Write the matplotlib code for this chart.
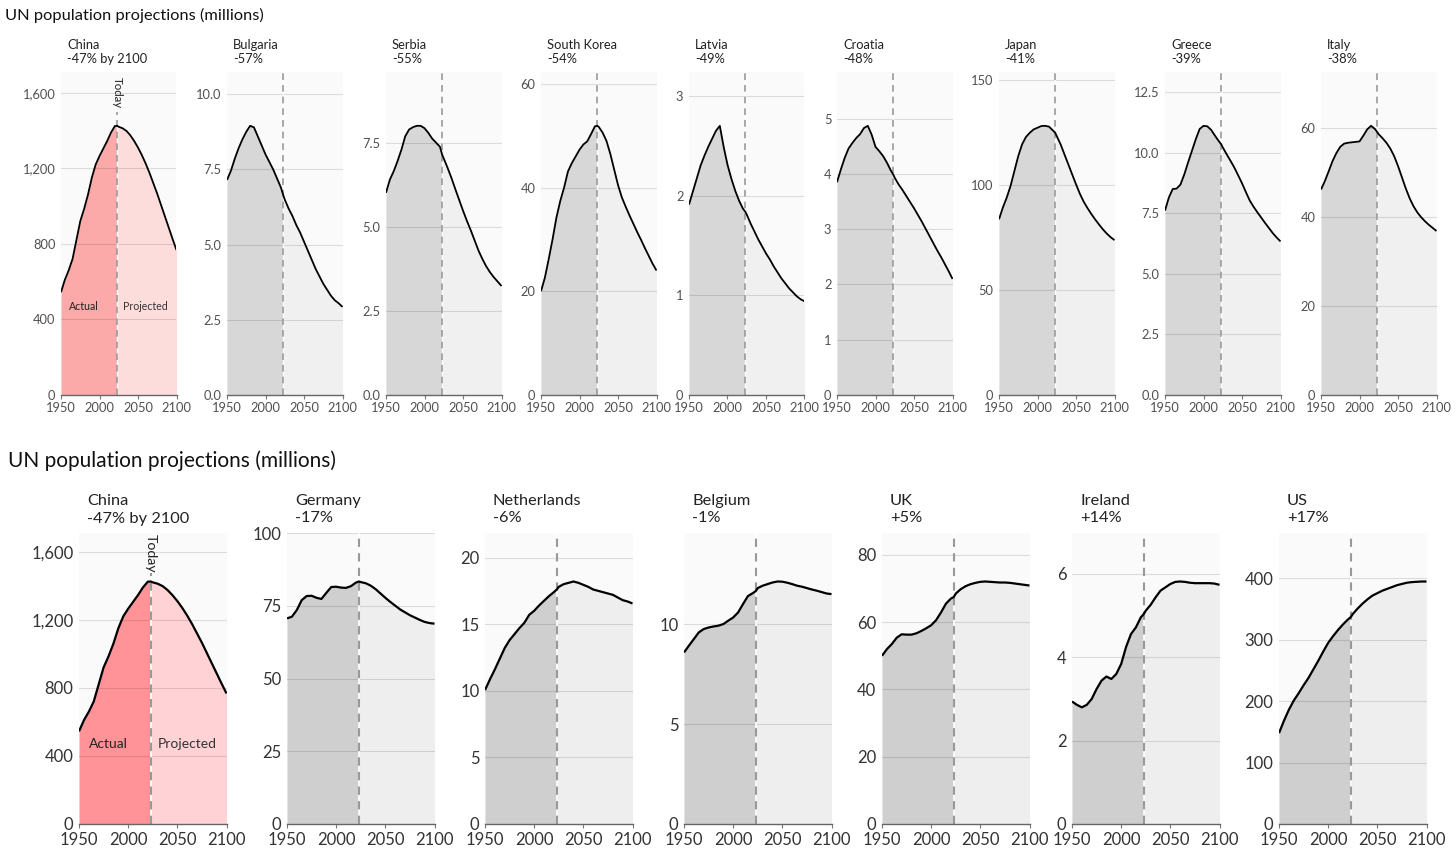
import numpy as np
import matplotlib
matplotlib.use("Agg")
import matplotlib.pyplot as plt
from matplotlib.ticker import FixedLocator, FixedFormatter

plt.rcParams['font.family'] = ['Lato', 'DejaVu Sans']

W, H = 1456, 859

# ===============================
# DATA (millions)
# ===============================
YEARS = [1950, 1955, 1960, 1965, 1970, 1975, 1980, 1985, 1990, 1995,
         2000, 2005, 2010, 2015, 2020, 2023, 2025, 2030, 2035, 2040,
         2045, 2050, 2055, 2060, 2065, 2070, 2075, 2080, 2085, 2090,
         2095, 2100]
TODAY = 2023

china = [544, 610, 660, 720, 820, 920, 985, 1060, 1150, 1220, 1265, 1305, 1345, 1390, 1424,
         1425, 1420, 1412, 1398, 1375, 1345, 1310, 1270, 1225, 1175, 1120, 1065, 1005, 945, 885, 825, 767]
bulgaria = [7.15, 7.45, 7.85, 8.2, 8.5, 8.75, 8.95, 8.9, 8.6, 8.3, 8.0, 7.75, 7.5, 7.2, 6.9,
            6.65, 6.5, 6.2, 5.95, 5.65, 5.4, 5.1, 4.8, 4.5, 4.2, 3.95, 3.7, 3.5, 3.3, 3.15, 3.05, 2.93]
serbia = [6.01, 6.4, 6.65, 6.95, 7.29, 7.69, 7.89, 7.96, 8.0, 8.0, 7.93, 7.79, 7.62, 7.5, 7.38,
          7.14, 7.03, 6.75, 6.45, 6.12, 5.8, 5.48, 5.18, 4.9, 4.6, 4.3, 4.05, 3.83, 3.65, 3.5, 3.37, 3.24]
south_korea = [20.0, 22.6, 26.2, 30.0, 34.2, 37.4, 40.0, 43.1, 44.7, 46.0, 47.3, 48.3, 48.9, 50.3, 51.8,
               51.9, 51.7, 50.6, 49.0, 46.5, 43.5, 40.5, 38.1, 36.3, 34.6, 33.0, 31.4, 29.9, 28.3, 26.8, 25.3, 24.0]
latvia = [1.91, 2.04, 2.17, 2.30, 2.40, 2.49, 2.57, 2.65, 2.70, 2.49, 2.31, 2.17, 2.05, 1.95, 1.87,
          1.84, 1.81, 1.72, 1.64, 1.56, 1.49, 1.42, 1.36, 1.29, 1.23, 1.17, 1.12, 1.07, 1.03, 0.99, 0.96, 0.94]
croatia = [3.85, 4.08, 4.29, 4.46, 4.56, 4.65, 4.72, 4.83, 4.87, 4.71, 4.49, 4.41, 4.32, 4.20, 4.06,
           3.99, 3.93, 3.81, 3.71, 3.60, 3.49, 3.38, 3.26, 3.14, 3.01, 2.88, 2.75, 2.62, 2.50, 2.37, 2.24, 2.10]
japan = [83.6, 89.2, 93.9, 99.5, 106.6, 113.7, 119.3, 122.8, 124.8, 126.4, 127.2, 128.0, 128.1, 127.7, 125.9,
         124.8, 123.2, 119.3, 114.5, 109.8, 105.0, 100.3, 95.8, 92.0, 88.9, 86.1, 83.5, 81.1, 78.8, 76.8, 75.1, 73.7]
greece = [7.61, 8.15, 8.5, 8.52, 8.68, 9.1, 9.6, 10.08, 10.56, 10.98, 11.11, 11.09, 10.94, 10.7, 10.47,
          10.35, 10.22, 9.94, 9.67, 9.39, 9.07, 8.74, 8.38, 8.03, 7.77, 7.54, 7.32, 7.1, 6.89, 6.68, 6.5, 6.34]
italy = [46.1, 48.0, 50.2, 52.5, 54.3, 55.7, 56.4, 56.6, 56.7, 56.8, 56.9, 58.2, 59.6, 60.4, 59.7,
         59.0, 58.5, 57.6, 56.6, 55.3, 53.6, 51.4, 48.9, 46.4, 44.2, 42.4, 41.0, 39.9, 39.0, 38.2, 37.5, 36.8]
germany = [70.7, 71.3, 73.6, 77.0, 78.4, 78.5, 77.8, 77.4, 79.5, 81.5, 81.6, 81.3, 81.2, 81.8, 83.0,
           83.4, 83.2, 82.8, 82.0, 80.8, 79.3, 77.8, 76.4, 75.1, 73.8, 72.8, 71.8, 71.0, 70.2, 69.5, 69.1, 68.9]
netherlands = [10.05, 10.85, 11.6, 12.4, 13.2, 13.8, 14.25, 14.7, 15.1, 15.7, 16.0, 16.4, 16.75, 17.1, 17.4,
               17.6, 17.8, 18.0, 18.1, 18.2, 18.1, 17.95, 17.8, 17.6, 17.5, 17.4, 17.3, 17.2, 17.0, 16.8, 16.7, 16.55]
belgium = [8.58, 8.92, 9.25, 9.58, 9.75, 9.83, 9.88, 9.92, 10.0, 10.17, 10.33, 10.58, 11.0, 11.4, 11.55,
           11.65, 11.8, 11.92, 12.0, 12.08, 12.13, 12.12, 12.07, 12.0, 11.92, 11.87, 11.8, 11.73, 11.67, 11.6, 11.53, 11.5]
uk = [50.0, 52.0, 53.5, 55.4, 56.4, 56.3, 56.3, 56.7, 57.4, 58.2, 59.1, 60.6, 62.9, 65.5, 67.0,
      67.5, 68.5, 69.8, 70.7, 71.3, 71.7, 72.0, 72.1, 72.0, 71.9, 71.8, 71.8, 71.7, 71.5, 71.3, 71.1, 70.9]
ireland = [2.94, 2.86, 2.8, 2.86, 3.0, 3.24, 3.44, 3.54, 3.48, 3.6, 3.84, 4.25, 4.56, 4.72, 4.96,
           5.04, 5.12, 5.26, 5.44, 5.6, 5.68, 5.76, 5.81, 5.82, 5.81, 5.79, 5.78, 5.78, 5.78, 5.78, 5.77, 5.74]
us = [148, 168, 186, 201, 213, 226, 238, 252, 266, 281, 295, 306, 316, 325, 333,
      337, 342, 351, 359, 366, 372, 376, 380, 383, 386, 389, 391, 393, 394, 394.5, 395, 395]

SERIES = {"China": china, "Bulgaria": bulgaria, "Serbia": serbia, "South Korea": south_korea,
          "Latvia": latvia, "Croatia": croatia, "Japan": japan, "Greece": greece, "Italy": italy,
          "Germany": germany, "Netherlands": netherlands, "Belgium": belgium, "UK": uk,
          "Ireland": ireland, "US": us}

CHANGE = {"China": "-47% by 2100", "Bulgaria": "-57%", "Serbia": "-55%", "South Korea": "-54%",
          "Latvia": "-49%", "Croatia": "-48%", "Japan": "-41%", "Greece": "-39%", "Italy": "-38%",
          "Germany": "-17%", "Netherlands": "-6%", "Belgium": "-1%", "UK": "+5%",
          "Ireland": "+14%", "US": "+17%"}

TICK_STEP = {"China": 400, "Bulgaria": 2.5, "Serbia": 2.5, "South Korea": 20, "Latvia": 1,
             "Croatia": 1, "Japan": 50, "Greece": 2.5, "Italy": 20, "Germany": 25,
             "Netherlands": 5, "Belgium": 5, "UK": 20, "Ireland": 2, "US": 100}

TOP_ROW = ["China", "Bulgaria", "Serbia", "South Korea", "Latvia", "Croatia", "Japan", "Greece", "Italy"]
BOTTOM_ROW = ["China", "Germany", "Netherlands", "Belgium", "UK", "Ireland", "US"]
TITLE = "UN population projections (millions)"

# ===============================
# LAYOUT / STYLE
# ===============================
TOP = dict(lefts=[61, 227, 386, 541, 689, 837, 999, 1165, 1321], bottom=395, width=115.5, height=323,
           name_y=44, change_y=58, text_dx=6, title_size=9.3, tick_size=9.3, tick_color="#505050",
           note_size=7.6, today_size=8.3, today_top=0.985, today_stop=0.875, line_w=1.3, dash_w=1.2,
           red=("#fba9a9", "#fddcdc"), grey=("#d7d7d7", "#f0f0f0"), xpad=2.0, ypad=4)
BOT = dict(lefts=[79, 287, 485, 684, 882, 1072, 1279], bottom=824, width=147.5, height=291,
           name_y=499, change_y=517, text_dx=8, title_size=11.8, tick_size=12, tick_color="#333333",
           note_size=10, today_size=10.2, today_top=0.998, today_stop=0.864, line_w=1.6, dash_w=1.5,
           red=("#ff9398", "#ffd3d5"), grey=("#cfcfcf", "#eeeeee"), xpad=2.5, ypad=4)

fig = plt.figure(figsize=(W / 100, H / 100), dpi=100)
fig.patch.set_facecolor("white")

fig.text(5 / W, 1 - 15 / H, TITLE, fontsize=11.8, color="#111111", va="center", ha="left")
fig.text(8 / W, 1 - 461 / H, TITLE, fontsize=15, color="#111111", va="center", ha="left")


def draw_row(names, st):
    years = np.array(YEARS)
    i = YEARS.index(TODAY)
    for name, left in zip(names, st["lefts"]):
        ax = fig.add_axes([left / W, 1 - st["bottom"] / H, st["width"] / W, st["height"] / H])
        vals = np.array(SERIES[name], dtype=float)
        top = 1.2 * vals.max()
        ax.set_xlim(1950, 2100)
        ax.set_ylim(0, top)
        ax.set_facecolor("#fafafa")

        actual_c, proj_c = st["red"] if name == "China" else st["grey"]
        ax.fill_between(years[:i + 1], vals[:i + 1], color=actual_c, lw=0, zorder=1)
        ax.fill_between(years[i:], vals[i:], color=proj_c, lw=0, zorder=1)

        step = TICK_STEP[name]
        ticks = np.arange(0, top + 1e-9, step)
        if float(step).is_integer():
            labels = [f"{t:,.0f}" for t in ticks]
        else:
            labels = [f"{t:.1f}" for t in ticks]
        for t in ticks[1:]:
            ax.axhline(t, color="black", alpha=0.12, lw=0.8, zorder=2)

        stop = st["today_stop"] if name == "China" else 1
        ax.axvline(TODAY, ymax=stop, color="white", lw=st["dash_w"] * 0.8, zorder=3)
        ax.axvline(TODAY, ymax=stop, color="#999999", lw=st["dash_w"], ls=(0, (4, 3)), zorder=3)
        ax.plot(years, vals, color="black", lw=st["line_w"], zorder=4, solid_capstyle="butt")

        if name == "China":
            ax.text(TODAY, top * st["today_top"], "Today", rotation=270, ha="center", va="top",
                    fontsize=st["today_size"], color="#222222", zorder=5)
            ax.text(1980, 470, "Actual", ha="center", va="center", fontsize=st["note_size"],
                    color="#222222", zorder=5)
            ax.text(2060, 470, "Projected", ha="center", va="center", fontsize=st["note_size"],
                    color="#333333", zorder=5)

        ax.yaxis.set_major_locator(FixedLocator(ticks))
        ax.yaxis.set_major_formatter(FixedFormatter(labels))
        ax.set_xticks([1950, 2000, 2050, 2100])
        ax.tick_params(axis="y", length=0, pad=st["ypad"], labelsize=st["tick_size"],
                       labelcolor=st["tick_color"])
        ax.tick_params(axis="x", length=3, width=0.8, color="#777777", pad=st["xpad"],
                       labelsize=st["tick_size"], labelcolor=st["tick_color"])
        for side in ["top", "right", "left"]:
            ax.spines[side].set_visible(False)
        ax.spines["bottom"].set_color("#666666")
        ax.spines["bottom"].set_linewidth(1.0)
        ax.spines["bottom"].set_zorder(5)

        x0 = (left + st["text_dx"]) / W
        fig.text(x0, 1 - st["name_y"] / H, name, fontsize=st["title_size"], color="#222222",
                 ha="left", va="center_baseline")
        fig.text(x0, 1 - st["change_y"] / H, CHANGE[name], fontsize=st["title_size"], color="#222222",
                 ha="left", va="center_baseline")


draw_row(TOP_ROW, TOP)
draw_row(BOTTOM_ROW, BOT)

fig.savefig("out.png", dpi=100, facecolor="white")
plt.close(fig)
